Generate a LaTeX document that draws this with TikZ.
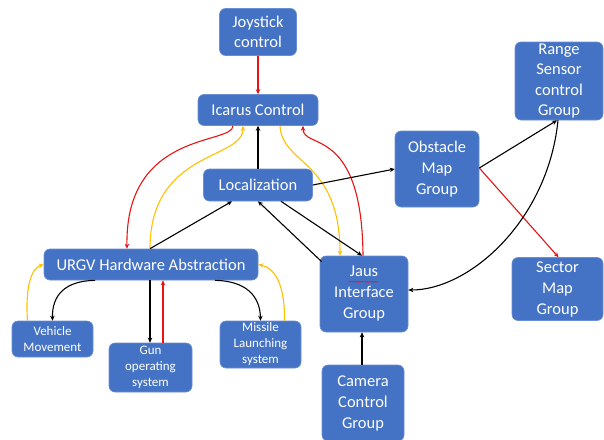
\documentclass[tikz,border=0pt]{standalone}
\usepackage{fontspec}
\setmainfont{Carlito}
\usetikzlibrary{arrows.meta,decorations.pathmorphing}
\definecolor{boxblue}{HTML}{4472C4}
\definecolor{boxedge}{HTML}{6A8FD3}
\definecolor{lnred}{HTML}{E81414}
\definecolor{lnyel}{HTML}{FFC000}
\begin{document}
\begin{tikzpicture}[x=1pt,y=-1pt,
  blk/.style={rectangle, rounded corners=6pt, fill=boxblue, draw=boxedge, line width=0.6pt,
    text=white, align=center, inner sep=0pt, font=\fontsize{16.5}{20.5}\selectfont},
  sml/.style={blk, font=\fontsize{13}{16}\selectfont},
  conn/.style={line width=1.1pt, -{Stealth[length=5pt,width=4.5pt]}},
  blk line/.style={conn, draw=black},
  red line/.style={conn, draw=lnred},
  yel line/.style={conn, draw=lnyel}]
\useasboundingbox (0,0) rectangle (604,439);
% nodes
\node[blk, minimum width=77, minimum height=47] (joy) at (258,32) {Joystick\\control};
\node[blk, minimum width=120, minimum height=31] (icar) at (258,110) {Icarus Control};
\node[blk, minimum width=109, minimum height=32] (loc) at (258,185) {Localization};
\node[blk, minimum width=84, minimum height=76, font=\fontsize{16.5}{21}\selectfont] (obst) at (437,169) {Obstacle\\Map\\Group};
\node[blk, minimum width=88, minimum height=78, font=\fontsize{16.5}{20.3}\selectfont] (range) at (559,81) {Range\\Sensor\\control\\Group};
\node[blk, minimum width=214, minimum height=31] (urgv) at (151,264.5) {URGV Hardware Abstraction};
\node[sml, minimum width=81, minimum height=36] (veh) at (52.5,339) {Vehicle\\Movement};
\node[sml, minimum width=83, minimum height=49] (gun) at (150.5,367.5) {Gun\\operating\\system};
\node[sml, minimum width=81, minimum height=47] (miss) at (260.5,344.5) {Missile\\Launching\\system};
\node[blk, minimum width=88, minimum height=76, font=\fontsize{16.5}{21}\selectfont] (jaus) at (364,294) {Jaus\\Interface\\Group};
\node[blk, minimum width=91, minimum height=63, font=\fontsize{16.5}{21}\selectfont] (sect) at (557.5,289) {Sector\\Map\\Group};
\node[blk, minimum width=82, minimum height=76, font=\fontsize{16.5}{21}\selectfont] (cam) at (363,403) {Camera\\Control\\Group};
% spell-check squiggle under "Jaus"
\draw[lnred, line width=0.5pt, decorate, decoration={snake, amplitude=0.6pt, segment length=2.5pt}]
  ([xshift=-15pt,yshift=-26pt]jaus.north) -- ([xshift=14pt,yshift=-26pt]jaus.north);
% connectors
\draw[red line] (joy.south) -- (icar.north);
\draw[blk line] (loc.north) -- (icar.south);
\draw[red line] ([xshift=-25pt]icar.south) .. controls (233,145) and (125,130) .. ([xshift=-24pt]urgv.north);
\draw[yel line] ([xshift=-1pt]urgv.north) .. controls (150,150) and (243,160) .. ([xshift=-15pt]icar.south);
\draw[blk line] ([xshift=-1pt]urgv.north) -- ([xshift=-26pt]loc.south);
\draw[yel line] ([xshift=22pt]icar.south) .. controls (282,165) and (340,160) .. ([xshift=-24pt]jaus.north);
\draw[red line] ([xshift=-1pt]jaus.north) .. controls (362,125) and (303,150) .. ([xshift=45pt]icar.south);
\draw[blk line] ([xshift=23pt]loc.south) -- ([xshift=-2pt]jaus.north);
\draw[blk line] ([xshift=2pt,yshift=-6pt]jaus.north west) -- (loc.south);
\draw[blk line] (loc.east) -- (obst.west);
\draw[blk line] ([yshift=1pt]obst.east) -- ([xshift=-2pt]range.south);
\draw[red line] ([yshift=1pt]obst.east) -- ([xshift=1pt]sect.north);
\draw[blk line] ([xshift=-1pt]range.south) .. controls (548,220) and (470,290) .. ([yshift=4pt]jaus.east);
\draw[blk line] ([xshift=-56pt]urgv.south) .. controls (65,281) and (52,295) .. (veh.north);
\draw[yel line] ([xshift=-25pt]veh.north) .. controls (25,285) and (32,268) .. (urgv.west);
\draw[blk line] ([xshift=-1pt]urgv.south) -- ([xshift=-0.5pt]gun.north);
\draw[red line] ([xshift=12.5pt]gun.north) -- ([xshift=12pt]urgv.south);
\draw[blk line] ([xshift=64pt]urgv.south) .. controls (245,281) and (260,295) .. (miss.north);
\draw[yel line] ([xshift=24pt]miss.north) .. controls (285,285) and (275,268) .. (urgv.east);
\draw[blk line] ([xshift=-1pt]cam.north) -- ([xshift=-2pt]jaus.south);
\end{tikzpicture}
\end{document}
